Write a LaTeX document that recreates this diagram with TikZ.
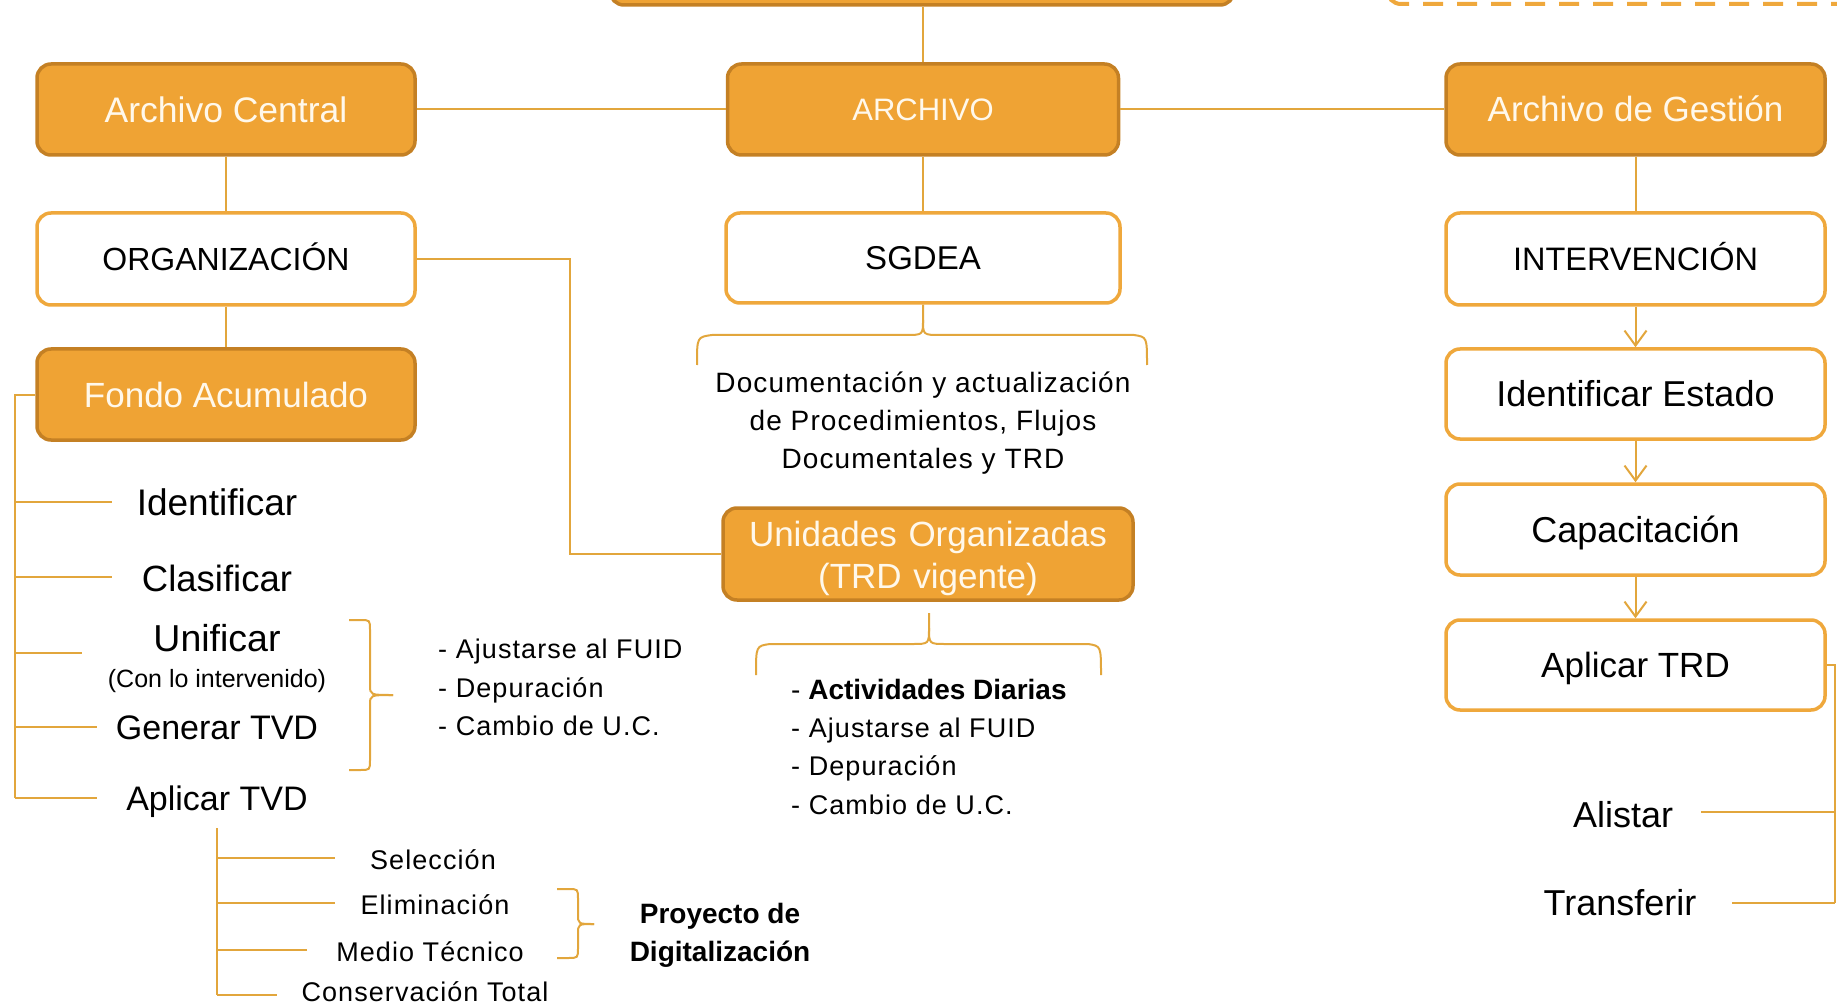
\documentclass[tikz,border=0pt]{standalone}
\usepackage{fontspec}
\setmainfont{Liberation Sans}
\newfontfamily\spc[LetterSpace=4]{Liberation Sans}
\usetikzlibrary{arrows.meta}
\definecolor{ofill}{RGB}{239,163,52}
\definecolor{odark}{RGB}{196,128,36}
\definecolor{obord}{RGB}{239,168,60}
\definecolor{conn}{RGB}{226,166,60}
\definecolor{wtext}{RGB}{255,248,235}
\begin{document}
\begin{tikzpicture}[x=1pt,y=-1pt,
  every node/.style={inner sep=0pt},
  obox/.style={draw=odark, line width=3.5pt, fill=ofill, rounded corners=14pt, minimum height=91pt, text=wtext},
  wbox/.style={draw=obord, line width=3.5pt, fill=white, rounded corners=14pt, minimum height=91pt, text=black},
  fz/.style 2 args={font=\fontsize{#1}{#1}\selectfont, text height=#2pt, text depth=0pt},
  sz/.style 2 args={font={\spc\fontsize{#1}{#1}\selectfont}, text height=#2pt, text depth=0pt},
  fb/.style 2 args={font={\bfseries\fontsize{#1}{#1}\selectfont}, text height=#2pt, text depth=0pt},
  cn/.style={draw=conn, line width=2pt},
  arrowline/.style={cn, -{Straight Barb[length=15pt,width=22pt]}},
]
\useasboundingbox (0,0) rectangle (1837,1008);
\clip (0,0) rectangle (1837,1008);

% top partial boxes
\node[obox, minimum width=624pt, minimum height=100pt] (top) at (922,-45) {};
\node[draw=obord, line width=4pt, dash pattern=on 20pt off 14pt, rounded corners=14pt, minimum width=570pt, minimum height=100pt] (dsh) at (1672,-46) {};

% main boxes
\node[obox, fz={35.5}{25.4}, minimum width=378pt] (ac) at (226,109.5) {Archivo Central};
\node[obox, fz={31}{22.2}, minimum width=391pt] (ar) at (923,109.5) {ARCHIVO};
\node[obox, fz={35}{25}, minimum width=379pt] (ag) at (1635.5,109.5) {Archivo de Gestión};
\node[wbox, fz={32}{22.9}, minimum width=378pt, minimum height=92pt] (org) at (226,259) {ORGANIZACIÓN};
\node[wbox, fz={33}{23.6}, minimum width=394pt, minimum height=90pt] (sg) at (923,258) {SGDEA};
\node[wbox, fz={32.5}{23.3}, minimum width=379pt, minimum height=92pt] (int) at (1635.5,259) {INTERVENCIÓN};
\node[obox, fz={35}{25}, minimum width=378pt] (fa) at (226,394.5) {Fondo Acumulado};
\node[wbox, fz={36}{25.8}, minimum width=379pt, minimum height=90pt] (ie) at (1635.5,394) {Identificar Estado};
\node[wbox, fz={36}{25.8}, minimum width=379pt] (cap) at (1635.5,529.5) {Capacitación};
\node[wbox, fz={35}{25}, minimum width=379pt, minimum height=90pt] (atrd) at (1635.5,665) {Aplicar TRD};
\node[obox, font=\fontsize{35}{42}\selectfont, text width=400pt, align=center, text height=25pt, text depth=41pt, minimum width=410pt, minimum height=92pt] (uo) at (928,554) {Unidades Organizadas\\(TRD vigente)};

% top connectors
\draw[cn] (top.south -| ar.north) -- (ar.north);
\draw[cn] (ac.east) -- (ar.west);
\draw[cn] (ar.east) -- (ag.west);
\draw[cn] (ar.south) -- (sg.north);
\draw[cn] (ac.south) -- (org.north);
\draw[cn] (org.south) -- (fa.north);
\draw[cn] (ag.south) -- (int.north);
\draw[arrowline] (int.south) -- (ie.north);
\draw[arrowline] (ie.south) -- (cap.north);
\draw[arrowline] (cap.south) -- (atrd.north);
\coordinate (ob) at (570,259);
\draw[cn] (org.east) -- (ob) |- (uo.west);

% Fondo Acumulado tree
\coordinate (fsT) at (15,394.5);
\coordinate (fsB) at (15,798);
\draw[cn] (fa.west) -- (fsT) -- (fsB);
\node[fz={37}{26.5}] (lid) at (217,502) {Identificar};
\node[fz={36.5}{26.1}] (lcl) at (217,578) {Clasificar};
\node[fz={37.5}{26.8}] (lun) at (217,638) {Unificar};
\node[fz={25}{17.9}] (lcon) at (217,679) {(Con lo intervenido)};
\node[fz={34}{24.3}] (lgen) at (217,727) {Generar TVD};
\node[fz={34}{24.3}] (lapl) at (217,798) {Aplicar TVD};
\coordinate (e1) at (112,502);
\coordinate (e2) at (112,577);
\coordinate (e3) at (82,653);
\coordinate (e4) at (97,727);
\coordinate (e5) at (97,798);
\foreach \e in {e1,e2,e3,e4,e5} \draw[cn] (fsT |- \e) -- (\e);

% brace for Unificar / Generar
\draw[cn] (349,620) -- (360,620) .. controls (370,620) .. (370,630) -- (370,685) .. controls (370,695) .. (393,695);
\draw[cn] (393,695) .. controls (370,695) .. (370,705) -- (370,760) .. controls (370,770) .. (360,770) -- (349,770);
\node[sz={27}{19.3}, anchor=west] (la1) at (438,649) {- Ajustarse al FUID};
\node[sz={27}{19.3}, anchor=west] (la2) at (438,688) {- Depuración};
\node[sz={27}{19.3}, anchor=west] (la3) at (438,726) {- Cambio de U.C.};

% Aplicar TVD subtree
\coordinate (ssT) at (217,828);
\coordinate (ssB) at (217,995);
\draw[cn] (ssT) -- (ssB);
\coordinate (s1) at (335,858);
\coordinate (s2) at (335,903);
\coordinate (s3) at (307,950);
\coordinate (s4) at (277,995);
\foreach \s in {s1,s2,s3,s4} \draw[cn] (ssT |- \s) -- (\s);
\node[sz={27}{19.3}] (tsel) at (433,860) {Selección};
\node[sz={27}{19.3}] (telim) at (435,905) {Eliminación};
\node[sz={27}{19.3}] (tmed) at (430,952) {Medio Técnico};
\node[sz={27}{19.3}] (tcons) at (425,992) {Conservación Total};
\draw[cn] (557,889) -- (568,889) .. controls (578,889) .. (578,899) -- (578,914) .. controls (578,924) .. (594,924);
\draw[cn] (594,924) .. controls (578,924) .. (578,934) -- (578,948) .. controls (578,958) .. (568,958) -- (557,958);
\node[fb={28}{20}] (pr1) at (720,913) {Proyecto de};
\node[fb={28}{20}] (pr2) at (720,951) {Digitalización};

% SGDEA brace and text
\draw[cn] (697,365) .. controls (697,337) .. (712,335) -- (905,335) .. controls (923,335) .. (923,320) -- (sg.south);
\draw[cn] (923,320) .. controls (923,335) .. (941,335) -- (1134,335) .. controls (1147,337) .. (1147,365);
\node[sz={28}{20}] (sd1) at (923,382) {Documentación y actualización};
\node[sz={28}{20}] (sd2) at (923,420) {de Procedimientos, Flujos};
\node[sz={28}{20}] (sd3) at (923,458) {Documentales y TRD};

% Unidades brace and list
\draw[cn] (756,675) .. controls (756,646) .. (770,644) -- (912,644) .. controls (929,644) .. (929,628) -- (929,613);
\draw[cn] (929,628) .. controls (929,644) .. (946,644) -- (1088,644) .. controls (1101,646) .. (1101,675);
\node[fz={28}{20}, anchor=west] (ra1) at (791,689) {- \textbf{Actividades Diarias}};
\node[sz={27}{19.3}, anchor=west] (ra2) at (791,728) {- Ajustarse al FUID};
\node[sz={27}{19.3}, anchor=west] (ra3) at (791,766) {- Depuración};
\node[sz={27}{19.3}, anchor=west] (ra4) at (791,805) {- Cambio de U.C.};

% right side
\coordinate (rv) at (1835,665);
\coordinate (rvB) at (1835,903);
\draw[cn] (atrd.east) -- (rv) -- (rvB);
\coordinate (al) at (1701,812);
\coordinate (tr) at (1732,903);
\draw[cn] (al) -- (al -| rv);
\draw[cn] (tr) -- (tr -| rv);
\node[fz={36}{25.8}] (talis) at (1623,815) {Alistar};
\node[fz={36}{25.8}] (ttrans) at (1620,903) {Transferir};
\end{tikzpicture}
\end{document}
